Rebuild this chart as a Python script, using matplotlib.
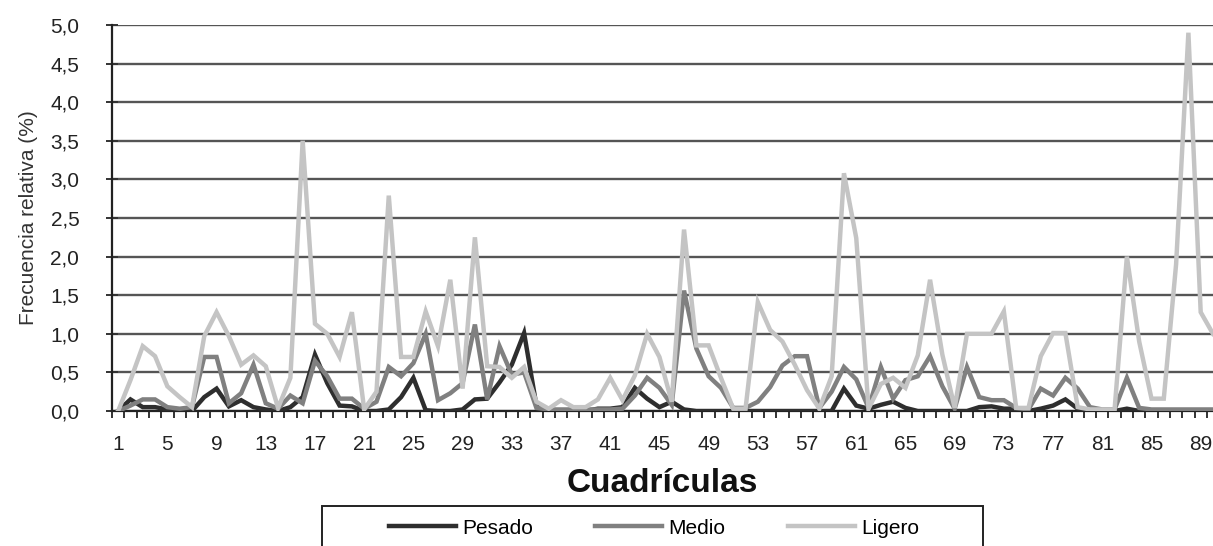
import matplotlib
matplotlib.use("Agg")
import matplotlib.pyplot as plt
from matplotlib.ticker import FixedLocator, FuncFormatter
from matplotlib.patches import Rectangle
import numpy as np

cuadriculas = list(range(1, 91))

pesado = [0.0, 0.15, 0.05, 0.05, 0.02, 0.0, 0.0, 0.18, 0.29, 0.06,
          0.14, 0.05, 0.02, 0.0, 0.05, 0.18, 0.73, 0.36, 0.07, 0.06,
          0.0, 0.0, 0.02, 0.18, 0.43, 0.01, 0.0, 0.0, 0.02, 0.15,
          0.16, 0.37, 0.6, 1.01, 0.07, 0.0, 0.0, 0.0, 0.0, 0.03,
          0.03, 0.05, 0.3, 0.16, 0.05, 0.12, 0.02, 0.0, 0.0, 0.0,
          0.0, 0.0, 0.0, 0.0, 0.0, 0.0, 0.0, 0.0, 0.0, 0.29,
          0.07, 0.03, 0.08, 0.12, 0.04, 0.0, 0.0, 0.0, 0.0, 0.0,
          0.05, 0.06, 0.03, 0.03, 0.0, 0.03, 0.07, 0.15, 0.03, 0.0,
          0.0, 0.0, 0.03, 0.0, 0.0, 0.0, 0.0, 0.0, 0.0, 0.0]

medio = [0.0, 0.07, 0.15, 0.15, 0.05, 0.03, 0.05, 0.7, 0.7, 0.1,
         0.23, 0.6, 0.1, 0.03, 0.2, 0.1, 0.65, 0.45, 0.16, 0.16,
         0.03, 0.12, 0.57, 0.45, 0.62, 1.0, 0.14, 0.23, 0.36, 1.12,
         0.15, 0.84, 0.47, 0.5, 0.04, 0.02, 0.02, 0.02, 0.02, 0.02,
         0.02, 0.03, 0.2, 0.43, 0.3, 0.08, 1.56, 0.81, 0.45, 0.3,
         0.04, 0.04, 0.12, 0.31, 0.59, 0.71, 0.71, 0.04, 0.25, 0.57,
         0.41, 0.04, 0.57, 0.16, 0.4, 0.45, 0.71, 0.32, 0.03, 0.57,
         0.18, 0.14, 0.14, 0.04, 0.02, 0.29, 0.2, 0.43, 0.29, 0.05,
         0.02, 0.02, 0.43, 0.04, 0.02, 0.02, 0.02, 0.02, 0.02, 0.02]

ligero = [0.0, 0.4, 0.84, 0.71, 0.32, 0.18, 0.05, 0.97, 1.28, 0.97,
          0.6, 0.72, 0.58, 0.04, 0.43, 3.5, 1.13, 1.0, 0.7, 1.28,
          0.02, 0.25, 2.79, 0.7, 0.7, 1.29, 0.84, 1.7, 0.29, 2.25,
          0.58, 0.57, 0.43, 0.57, 0.12, 0.03, 0.14, 0.05, 0.05, 0.15,
          0.43, 0.14, 0.46, 1.0, 0.7, 0.12, 2.35, 0.85, 0.85, 0.43,
          0.03, 0.03, 1.41, 1.05, 0.9, 0.6, 0.27, 0.03, 0.45, 3.08,
          2.24, 0.03, 0.35, 0.43, 0.3, 0.72, 1.7, 0.73, 0.04, 1.0,
          1.0, 1.0, 1.29, 0.04, 0.04, 0.71, 1.01, 1.01, 0.05, 0.02,
          0.02, 0.02, 2.0, 0.9, 0.16, 0.16, 1.9, 4.9, 1.28, 1.0]

series_names = ["Pesado", "Medio", "Ligero"]
series_colors = ["#2e2e2e", "#808080", "#c4c4c4"]

y_ticks = [0.0, 0.5, 1.0, 1.5, 2.0, 2.5, 3.0, 3.5, 4.0, 4.5, 5.0]
x_label_ticks = list(range(1, 90, 4))

plt.rcParams['font.family'] = ["Liberation Sans", "DejaVu Sans"]

W, H = 1213, 546
fig = plt.figure(figsize=(W / 100, H / 100), dpi=100)
ax = fig.add_axes([112 / W, 1 - 411 / H, (W - 112) / W, (411 - 25) / H])

for vals, name, col, z in zip([pesado, medio, ligero], series_names, series_colors, [3, 4, 5]):
    ax.plot(cuadriculas, vals, color=col, lw=3.2, label=name, zorder=z,
            solid_joinstyle='miter')

ax.set_xlim(0.5, 90.0)
ax.set_ylim(0, 5.0)

ax.yaxis.set_major_locator(FixedLocator(y_ticks))
ax.yaxis.set_major_formatter(FuncFormatter(lambda v, p: f"{v:.1f}".replace(".", ",")))
ax.grid(axis='y', color='#555555', lw=1.7, zorder=1)
ax.set_axisbelow(True)

ax.set_xticks(x_label_ticks)
ax.set_xticklabels([str(t) for t in x_label_ticks])
ax.set_xticks(np.arange(0.5, 90.5, 1.0), minor=True)
ax.tick_params(axis='x', which='major', length=0, pad=17, labelsize=15, colors='#222222')
ax.tick_params(axis='x', which='minor', length=5, width=1.4, color='#333333', direction='out')
ax.tick_params(axis='y', which='major', length=9, width=1.4, color='#333333', labelsize=15,
               labelcolor='#222222', pad=19, direction='inout')

for s in ['top', 'right']:
    ax.spines[s].set_visible(False)
ax.spines['left'].set_color('#222222')
ax.spines['left'].set_linewidth(1.6)
ax.spines['bottom'].set_color('#222222')
ax.spines['bottom'].set_linewidth(1.6)

ax.set_ylabel("Frecuencia relativa (%)", fontsize=15, color='#333333', labelpad=9)
ax.set_xlabel("Cuadrículas", fontsize=24, fontweight='bold', labelpad=10, color='#111111')

# legend frame (box runs off the bottom edge, as in the reference)
fig.patches.append(Rectangle((322 / W, -0.05), (983 - 322) / W, (1 - 506 / H) + 0.05,
                             transform=fig.transFigure, facecolor='white',
                             edgecolor='#222222', lw=1.4, zorder=0))
leg = fig.legend(loc='center', bbox_to_anchor=(654 / W, 1 - 528 / H), ncol=3,
                 frameon=False, fontsize=15, handlelength=3.2, handletextpad=0.3,
                 columnspacing=3.0, borderpad=0.0)

fig.savefig("out.png", dpi=100)
